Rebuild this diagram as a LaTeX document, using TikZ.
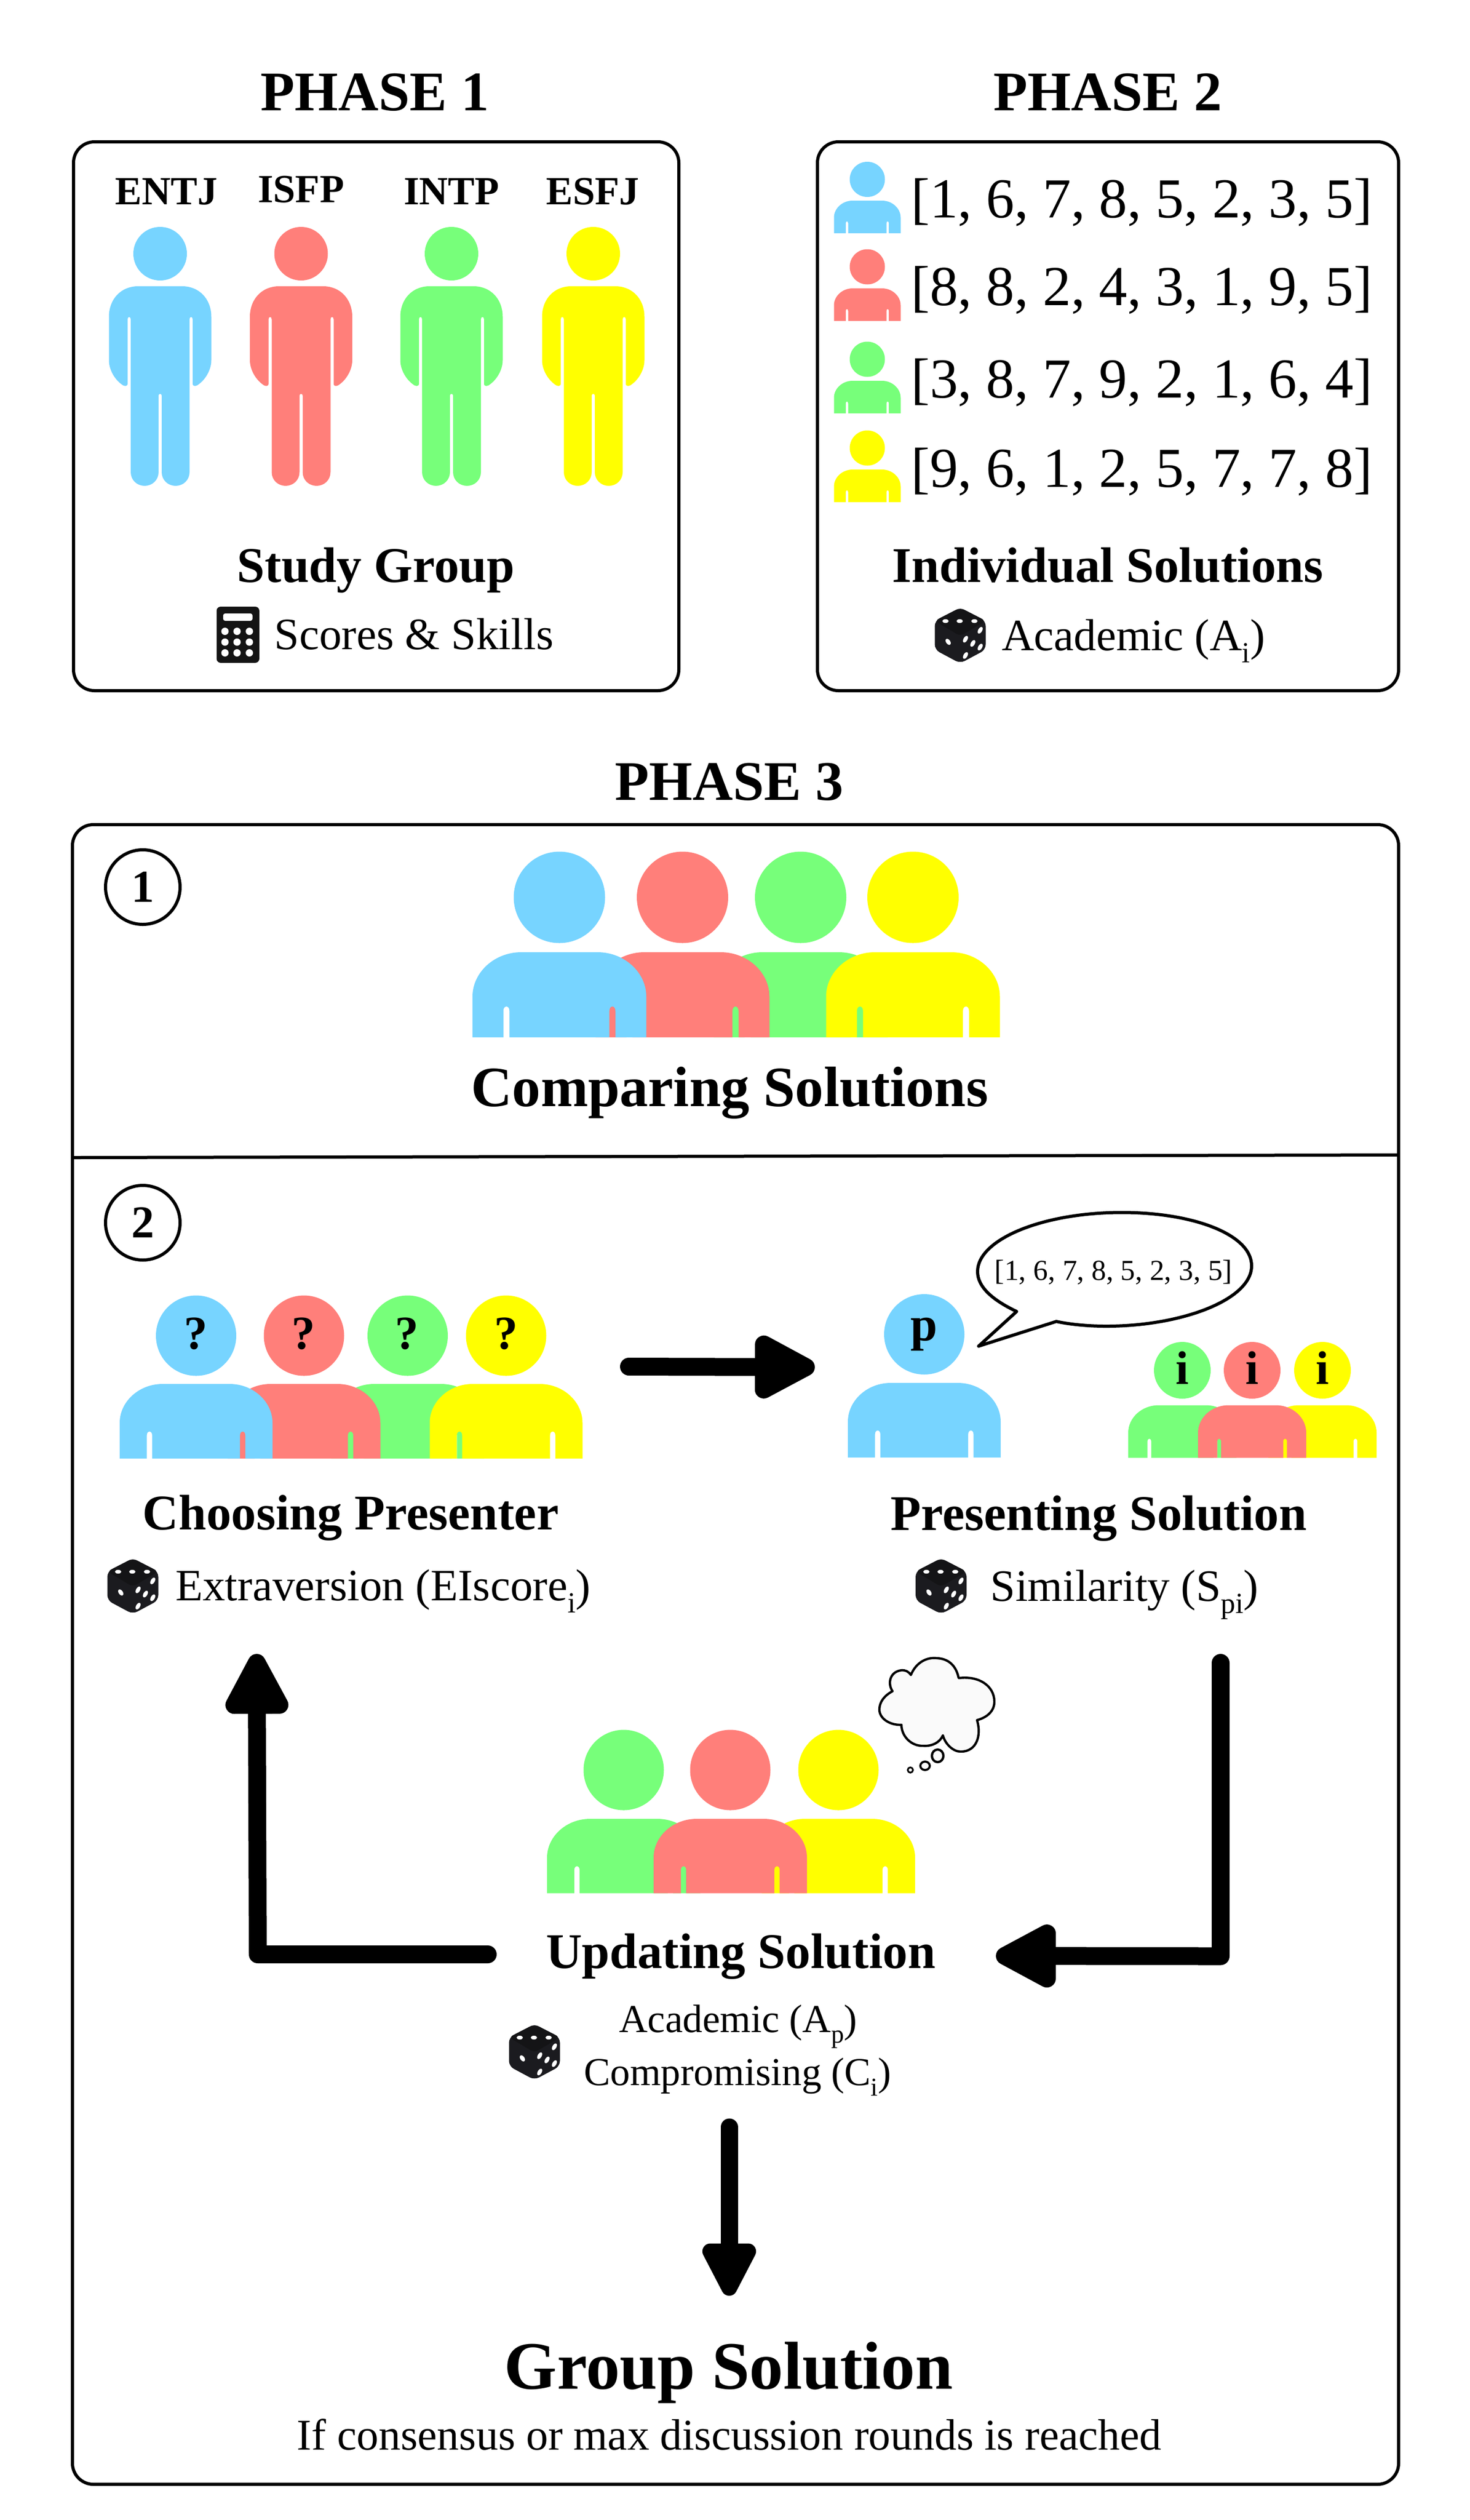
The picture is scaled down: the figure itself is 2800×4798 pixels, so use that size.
\documentclass[tikz,border=0pt]{standalone}
\usepackage{fontspec}
\setmainfont{Liberation Serif}
\usetikzlibrary{arrows.meta}
\definecolor{pblue}{HTML}{77D4FF}
\definecolor{pred}{HTML}{FF7F7A}
\definecolor{pgreen}{HTML}{77FF7A}
\definecolor{pyellow}{HTML}{FFFF00}
\definecolor{dicedark}{HTML}{1B1B1F}
\definecolor{dicetop}{HTML}{141416}
\newcommand\fsz[1]{\fontsize{#1}{#1}\selectfont}
\newcommand\lowsub[1]{\raisebox{-.27em}{\scalebox{.65}{#1}}}
% standing figure: centre x, top of body y, colour; head above it
\newcommand\stickfig[3]{%
  \begin{scope}[shift={(#1,#2)}]
    \fill[#3] (0,-62) ellipse [x radius=51,y radius=51];
    \fill[#3] (-42,0) -- (42,0) .. controls (75,0) and (97.5,25) .. (97.5,58)
      -- (97.5,141) .. controls (97.5,160) and (85,180) .. (70,189)
      .. controls (65,191) and (62,189) .. (62,186) -- (62,63)
      .. controls (62,57) and (56,57) .. (56,63) -- (56,354)
      .. controls (56,369) and (44,380) .. (29.5,380) .. controls (15,380) and (3,369) .. (3,354)
      -- (3,208) .. controls (3,204) and (-3,204) .. (-3,208) -- (-3,354)
      .. controls (-3,369) and (-15,380) .. (-29.5,380) .. controls (-44,380) and (-56,369) .. (-56,354)
      -- (-56,63) .. controls (-56,57) and (-62,57) .. (-62,63) -- (-62,186)
      .. controls (-62,189) and (-65,191) .. (-70,189) .. controls (-85,180) and (-97.5,160) .. (-97.5,141)
      -- (-97.5,58) .. controls (-97.5,25) and (-75,0) .. (-42,0) -- cycle;
  \end{scope}}
% bust: centre x, head centre y, head radius, body top y, half width, body height, colour
\newcommand\bustfig[7]{%
  \fill[#7] (#1,#2) ellipse [x radius=#3,y radius=#3];
  \begin{scope}[shift={(#1,#4)},xscale=#5,yscale=#6]
    \fill[#7] (-.44,0) -- (.44,0) .. controls (.75,0) and (1,.24) .. (1,.52) -- (1,1)
      -- (.645,1) -- (.645,.69) .. controls (.645,.62) and (.575,.62) .. (.575,.69) -- (.575,1)
      -- (-.575,1) -- (-.575,.69) .. controls (-.575,.62) and (-.645,.62) .. (-.645,.69) -- (-.645,1)
      -- (-1,1) -- (-1,.52) .. controls (-1,.24) and (-.75,0) .. (-.44,0) -- cycle;
  \end{scope}}
% die: centre x, y
\newcommand\dicefig[2]{%
  \begin{scope}[shift={(#1,#2)}]
    \fill[dicedark,rounded corners=5pt] (0,-53) -- (48.5,-28) -- (48.5,27) -- (0,53) -- (-48.5,27) -- (-48.5,-28) -- cycle;
    \fill[dicetop,rounded corners=4pt] (0,-53) -- (48.5,-28) -- (0,1) -- (-48.5,-28) -- cycle;
    \fill[white] (-28,-27.5) ellipse [x radius=6,y radius=3.6];
    \fill[white] (-1,-27.5) ellipse [x radius=6,y radius=3.6];
    \fill[white] (27,-27.5) ellipse [x radius=6,y radius=3.6];
    \fill[white,rotate around={-55:(-23,12)}] (-23,12) ellipse [x radius=6.5,y radius=4];
    \foreach \px/\py in {10/7,24/15,38/-10,38/22,10/38}
      \fill[white,rotate around={60:(\px,\py)}] (\px,\py) ellipse [x radius=7,y radius=3.8];
  \end{scope}}
\tikzset{
  lab/.style={inner sep=0pt,outer sep=0pt,anchor=base},
  phasetitle/.style={lab,font=\fsz{53.2}\bfseries},
  mbti/.style={lab,font=\fsz{38}\bfseries},
  heading/.style={lab,font=\fsz{47.5}\bfseries},
  plain/.style={lab,font=\fsz{42.7}},
  listtext/.style={lab,font=\fsz{53.8}},
  headmark/.style={lab,font=\fsz{45}\bfseries},
  framebox/.style={draw=black,line width=3pt,rounded corners=20pt},
  stepnum/.style={circle,draw=black,line width=3pt,minimum size=71pt,inner sep=0pt,font=\fsz{43.5}\bfseries},
  bigarrow/.style={draw=black,line width=17pt,line cap=round,line join=round,-{Triangle[round,length=68pt,width=66pt]}},
  downarrow/.style={draw=black,line width=16.5pt,line cap=round,line join=round,-{Triangle[round,length=60pt,width=56pt]}},
}
\begin{document}
\begin{tikzpicture}[x=.5pt,y=-.5pt]
\useasboundingbox (0,0) rectangle (2800,4798);
\fill[white] (0,0) rectangle (2800,4798);

% titles
\node[phasetitle] (t1) at (714,210) {PHASE 1};
\node[phasetitle] (t2) at (2110,210) {PHASE 2};
\node[phasetitle] (t3) at (1389,1523) {PHASE 3};

% frames
\draw[framebox] (140,270) rectangle (1293,1315);
\draw[framebox] (1557,270) rectangle (2664,1315);
\draw[framebox] (138,1570) rectangle (2664,4730);
\draw[line width=3pt] (138,2204) -- (2664,2199);

% phase 1
\node[mbti] (m1) at (317,389) {ENTJ};
\node[mbti] (m2) at (573.5,385) {ISFP};
\node[mbti] (m3) at (860,389) {INTP};
\node[mbti] (m4) at (1129,389) {ESFJ};
\stickfig{305}{545}{pblue}
\stickfig{573.5}{545}{pred}
\stickfig{860}{545}{pgreen}
\stickfig{1130}{545}{pyellow}
\node[heading] (sg) at (716,1108) {Study Group};
\node[plain] (ss) at (788.5,1236) {Scores \& Skills};
\fill[black!92,rounded corners=4pt] (412.5,1155) rectangle (494,1262);
\fill[white,rounded corners=2pt] (425,1168) rectangle (481,1182);
\foreach \cy in {1202,1222.5,1243} \foreach \cx in {428.5,451.5,475}
  \fill[white] (\cx,\cy) ellipse [x radius=7,y radius=7];

% phase 2
\bustfig{1652}{341.5}{33.5}{382}{63.5}{62}{pblue}
\bustfig{1652}{508}{33.5}{549}{63.5}{62}{pred}
\bustfig{1652}{684}{33.5}{725}{63.5}{62}{pgreen}
\bustfig{1652}{853}{33.5}{894}{63.5}{62}{pyellow}
\node[listtext] (l1) at (2174.5,414) {[1, 6, 7, 8, 5, 2, 3, 5]};
\node[listtext] (l2) at (2174.5,581) {[8, 8, 2, 4, 3, 1, 9, 5]};
\node[listtext] (l3) at (2174.5,757) {[3, 8, 7, 9, 2, 1, 6, 4]};
\node[listtext] (l4) at (2174.5,927) {[9, 6, 1, 2, 5, 7, 7, 8]};
\node[heading] (is) at (2110,1108) {Individual Solutions};
\dicefig{1829}{1210}
\node[plain] (ac) at (2159,1238) {Academic (A\lowsub{i})};

% phase 3, step 1
\node[stepnum] (c1) at (272,1689) {1};
\bustfig{1525}{1708.5}{87}{1813}{165.5}{162}{pgreen}
\bustfig{1300}{1708.5}{87}{1813}{165.5}{162}{pred}
\bustfig{1065.5}{1708.5}{87}{1813}{165.5}{162}{pblue}
\bustfig{1739}{1708.5}{87}{1813}{165.5}{162}{pyellow}
\node[lab,font=\fsz{54.2}\bfseries] (cs) at (1390,2106) {Comparing Solutions};

% step 2: choosing presenter
\node[stepnum] (c2) at (272,2328) {2};
\bustfig{776.5}{2543}{76.5}{2635}{145.5}{142}{pgreen}
\bustfig{579}{2543}{76.5}{2635}{145.5}{142}{pred}
\bustfig{373.5}{2543}{76.5}{2635}{145.5}{142}{pblue}
\bustfig{964}{2543}{76.5}{2635}{145.5}{142}{pyellow}
\node[headmark] (q1) at (373,2568) {?};
\node[headmark] (q2) at (578,2568) {?};
\node[headmark] (q3) at (775,2568) {?};
\node[headmark] (q4) at (964,2568) {?};
\node[heading] (ch) at (668,2912) {Choosing Presenter};
\dicefig{253}{3020}
\node[plain] (ex) at (729.5,3047) {Extraversion (EIscore\lowsub{i})};

% presenting solution
\bustfig{1760.5}{2540.5}{76.5}{2633}{145.5}{142}{pblue}
\node[lab,font=\fsz{46}\bfseries] (pp) at (1760,2552) {p};
\draw[line width=3pt,line join=round,fill=white] (1936.5,2497) .. controls (1890,2475) and (1862,2450) .. (1862,2421)
  .. controls (1862,2360) and (1985,2308.5) .. (2137,2308.5)
  .. controls (2272,2308.5) and (2384,2350) .. (2384,2410)
  .. controls (2384,2475) and (2250,2525) .. (2107,2525)
  .. controls (2075,2525) and (2040,2522) .. (2012,2516)
  -- (1864,2563) -- cycle;
\node[lab,font=\fsz{27.7}] (sp) at (2121,2437) {[1, 6, 7, 8, 5, 2, 3, 5]};
\bustfig{2252}{2609}{54}{2675.5}{103}{100}{pgreen}
\bustfig{2519}{2609}{54}{2675.5}{103}{100}{pyellow}
\bustfig{2385}{2609}{54}{2675.5}{103}{100}{pred}
\node[headmark] (i1) at (2252,2635) {i};
\node[headmark] (i2) at (2385,2635) {i};
\node[headmark] (i3) at (2519,2635) {i};
\node[heading] (pr) at (2093,2913) {Presenting Solution};
\dicefig{1792.5}{3020}
\node[plain] (si) at (2142,3048) {Similarity (S\lowsub{pi})};

% updating solution
\bustfig{1188}{3370}{76.5}{3463}{146}{141.5}{pgreen}
\bustfig{1597}{3370}{76.5}{3463}{146}{141.5}{pyellow}
\bustfig{1391}{3370}{76.5}{3463}{146}{141.5}{pred}
\draw[line width=2.2pt,line join=round,fill=black!2] (1735,3189) .. controls (1745,3165) and (1765,3155) .. (1784,3157)
  .. controls (1810,3158) and (1822,3175) .. (1826,3195)
  .. controls (1865,3190) and (1894,3210) .. (1894,3240)
  .. controls (1894,3258) and (1880,3270) .. (1861,3275)
  .. controls (1870,3305) and (1860,3335) .. (1830,3335)
  .. controls (1815,3335) and (1800,3320) .. (1796,3304)
  .. controls (1790,3318) and (1775,3325) .. (1759,3324)
  .. controls (1735,3325) and (1717,3305) .. (1717,3284)
  .. controls (1695,3285) and (1675,3272) .. (1675,3255)
  .. controls (1675,3240) and (1685,3228) .. (1700,3220)
  .. controls (1690,3205) and (1695,3182) .. (1718,3180)
  .. controls (1725,3180) and (1730,3182) .. (1735,3189) -- cycle;
\draw[line width=2.2pt,fill=black!2] (1786,3343) ellipse [x radius=11,y radius=12];
\draw[line width=2pt,fill=black!2] (1762,3362) ellipse [x radius=9,y radius=8];
\draw[line width=1.6pt,fill=black!2] (1734,3370) ellipse [x radius=5,y radius=5];
\node[heading] (up) at (1411,3747) {Updating Solution};
\dicefig{1018}{3907}
\node[lab,font=\fsz{37.7}] (ap) at (1406,3869) {Academic (A\lowsub{p})};
\node[lab,font=\fsz{37.7}] (co) at (1405,3970) {Compromising (C\lowsub{i})};

% group solution
\node[lab,font=\fsz{64.5}\bfseries] (gs) at (1388,4548) {Group Solution};
\node[lab,font=\fsz{41.8}] (gn) at (1389,4664) {If consensus or max discussion rounds is reached};

% connectors
\coordinate (a1s) at (1198,2602);
\coordinate (a1e) at (1552,2603);
\coordinate (a2s) at (929,3721);
\coordinate (a2c) at (491,3721);
\coordinate (a2e) at (489,3149);
\coordinate (a3s) at (2325,3166);
\coordinate (a3c) at (2325,3724.5);
\coordinate (a3e) at (1897,3724);
\coordinate (a4s) at (1389,4050);
\coordinate (a4e) at (1389,4371);
\draw[bigarrow] (a1s) -- (a1e);
\draw[bigarrow] (a2s) -- (a2c) -- (a2e);
\draw[bigarrow] (a3s) -- (a3c) -- (a3e);
\draw[downarrow] (a4s) -- (a4e);
\end{tikzpicture}
\end{document}
